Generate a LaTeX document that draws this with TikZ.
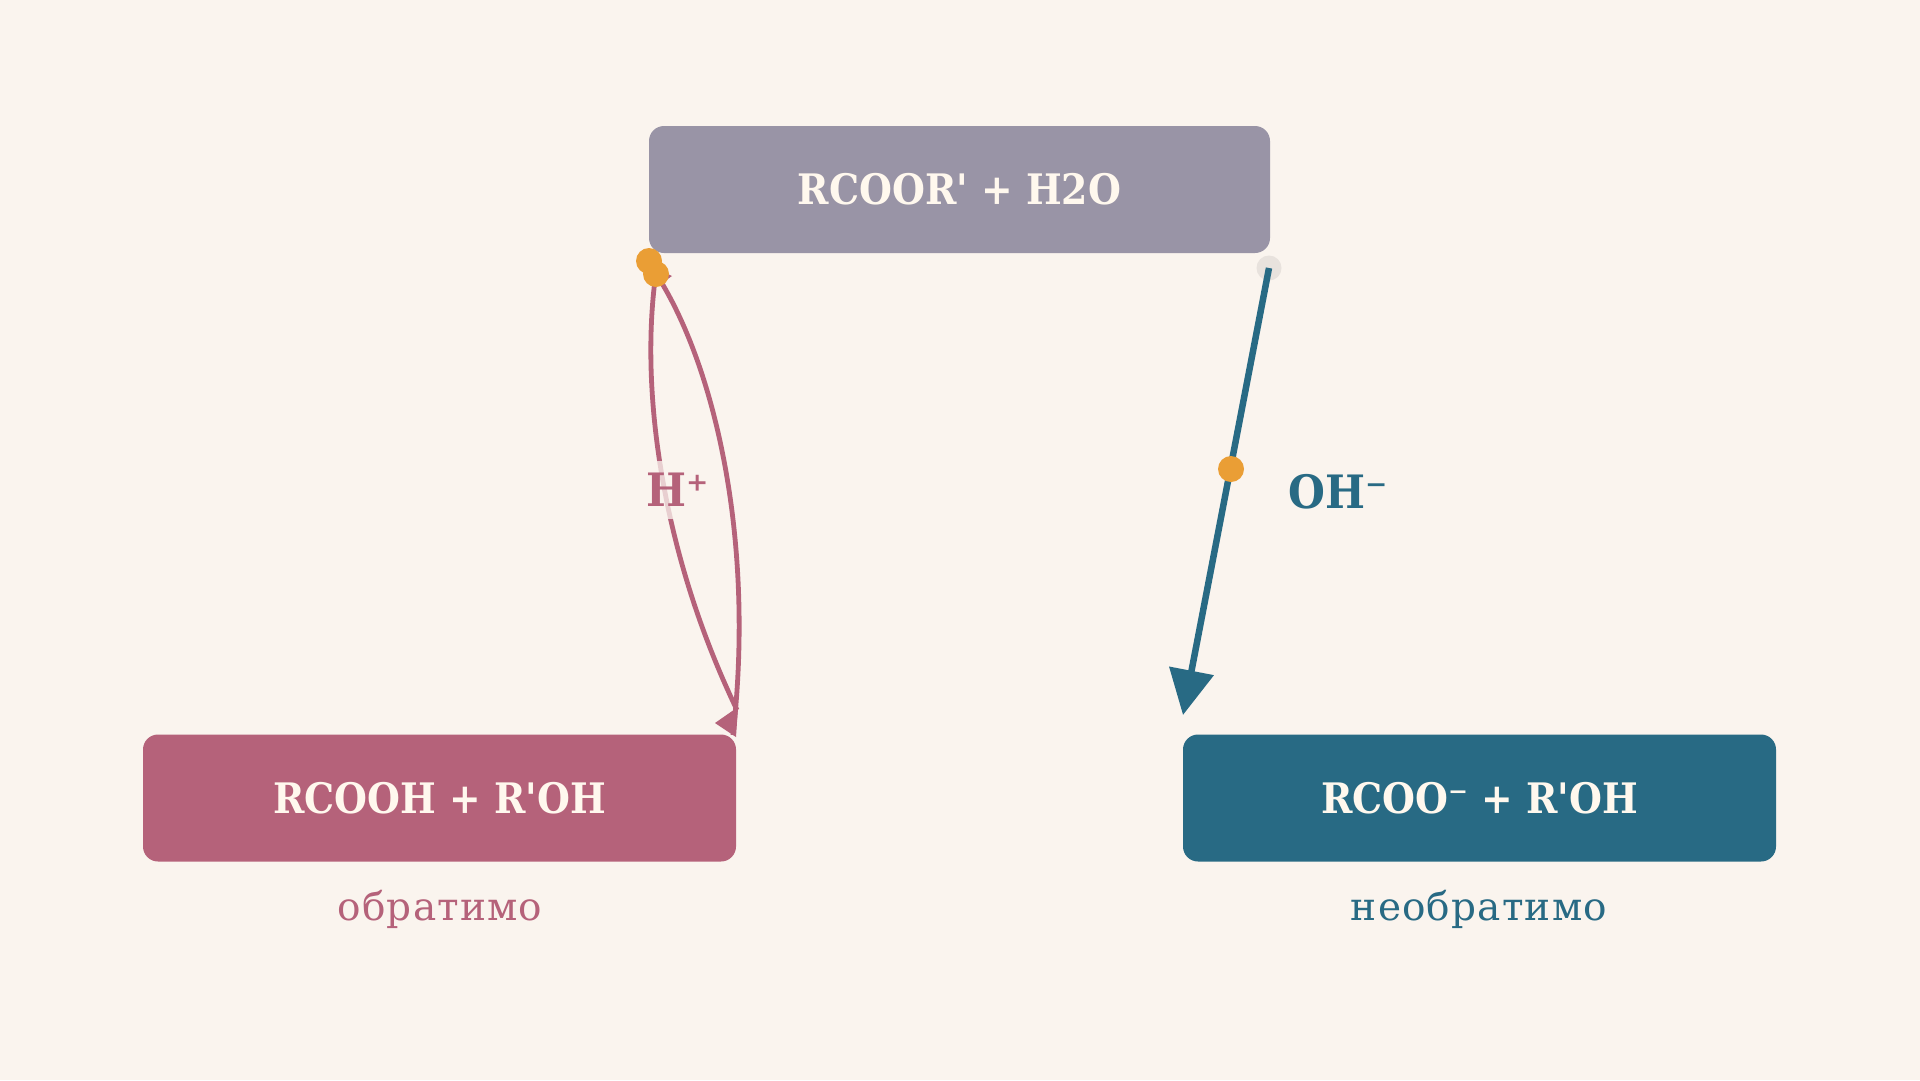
\documentclass[tikz,border=0pt]{standalone}
\usepackage{fontspec}
\setmainfont{DejaVu Serif}[Ligatures=TeXOff]
\newfontfamily\boxfont{DejaVu Serif}[FakeStretch=0.9, Ligatures=TeXOff]
\newfontfamily\labfont{DejaVu Serif}[FakeStretch=0.92, Ligatures=TeXOff]
\newfontfamily\subfont{DejaVu Serif}[LetterSpace=3, Ligatures=TeXOff]
\usetikzlibrary{arrows.meta,calc}
\definecolor{bgc}{HTML}{FAF4EE}
\definecolor{topc}{HTML}{9994A6}
\definecolor{pinkc}{HTML}{B5627A}
\definecolor{tealc}{HTML}{286A84}
\definecolor{orangec}{HTML}{EA9E35}
\definecolor{cream}{HTML}{FFF8EE}
\definecolor{dotgray}{HTML}{E8E2DD}
\tikzset{
  statebox/.style={rounded corners=15pt, inner sep=0pt, minimum width=#1, minimum height=127pt,
    text=cream, font=\boxfont\fontsize{42}{48}\selectfont\bfseries},
  sublabel/.style={font=\subfont\fontsize{39}{44}\selectfont},
  catlabel/.style={font=\labfont\fontsize{46}{50}\selectfont\bfseries, inner sep=0pt},
  dotmark/.style={circle, fill=orangec, inner sep=0pt, minimum size=26pt},
  pinkline/.style={draw=pinkc, line width=4.8pt},
}
\begin{document}
\begin{tikzpicture}[x=1pt,y=-1pt]
\fill[bgc] (0,0) rectangle (1920,1080);
\useasboundingbox (0,0) rectangle (1920,1080);
% boxes
\node[statebox=621pt, fill=topc] (top) at (959.5,189.5) {RCOOR' + H2O};
\node[statebox=593pt, fill=pinkc] (acid) at (439.5,798) {RCOOH + R'OH};
\node[statebox=593pt, fill=tealc] (salt) at (1479.5,798) {RCOO⁻ + R'OH};
\node[sublabel, text=pinkc] (rev) at (440,909) {обратимо};
\node[sublabel, text=tealc] (irr) at (1479,909) {необратимо};
% coordinates of connector ends
\coordinate (aS) at (737,710);
\coordinate (aE) at (655,280);
\coordinate (bS) at (660,280);
\coordinate (bE) at (733,735);
\coordinate (cS) at (1269,268);
\coordinate (cE) at (1183,715);
% left pair of curves (acid catalysis)
\draw[pinkline] (aS) .. controls (665,560) and (640,400) .. (aE);
\draw[pinkline] (bS) .. controls (715,370) and (755,540) .. (bE);
\fill[pinkc] (715,723) -- (738,707) -- (736,737) -- cycle;
\fill[pinkc] (662,271) -- (672,276) -- (662,283) -- cycle;
\node[catlabel, text=pinkc, fill=bgc, fill opacity=0.75, text opacity=1, inner xsep=6pt, inner ysep=12pt] (hplus) at (678,490) {H⁺};
\node[dotmark] (d1) at (649,261) {};
\node[dotmark] (d2) at (656,274) {};
% right arrow (base)
\node[circle, fill=dotgray, inner sep=0pt, minimum size=25pt] (g) at (cS) {};
\draw[tealc, line width=6.5pt, -{Triangle[length=45pt,width=44pt]}] (cS) -- (cE);
\node[dotmark] (d3) at (1231,469) {};
\node[catlabel, text=tealc] (oh) at (1338,492) {OH⁻};
\end{tikzpicture}
\end{document}
